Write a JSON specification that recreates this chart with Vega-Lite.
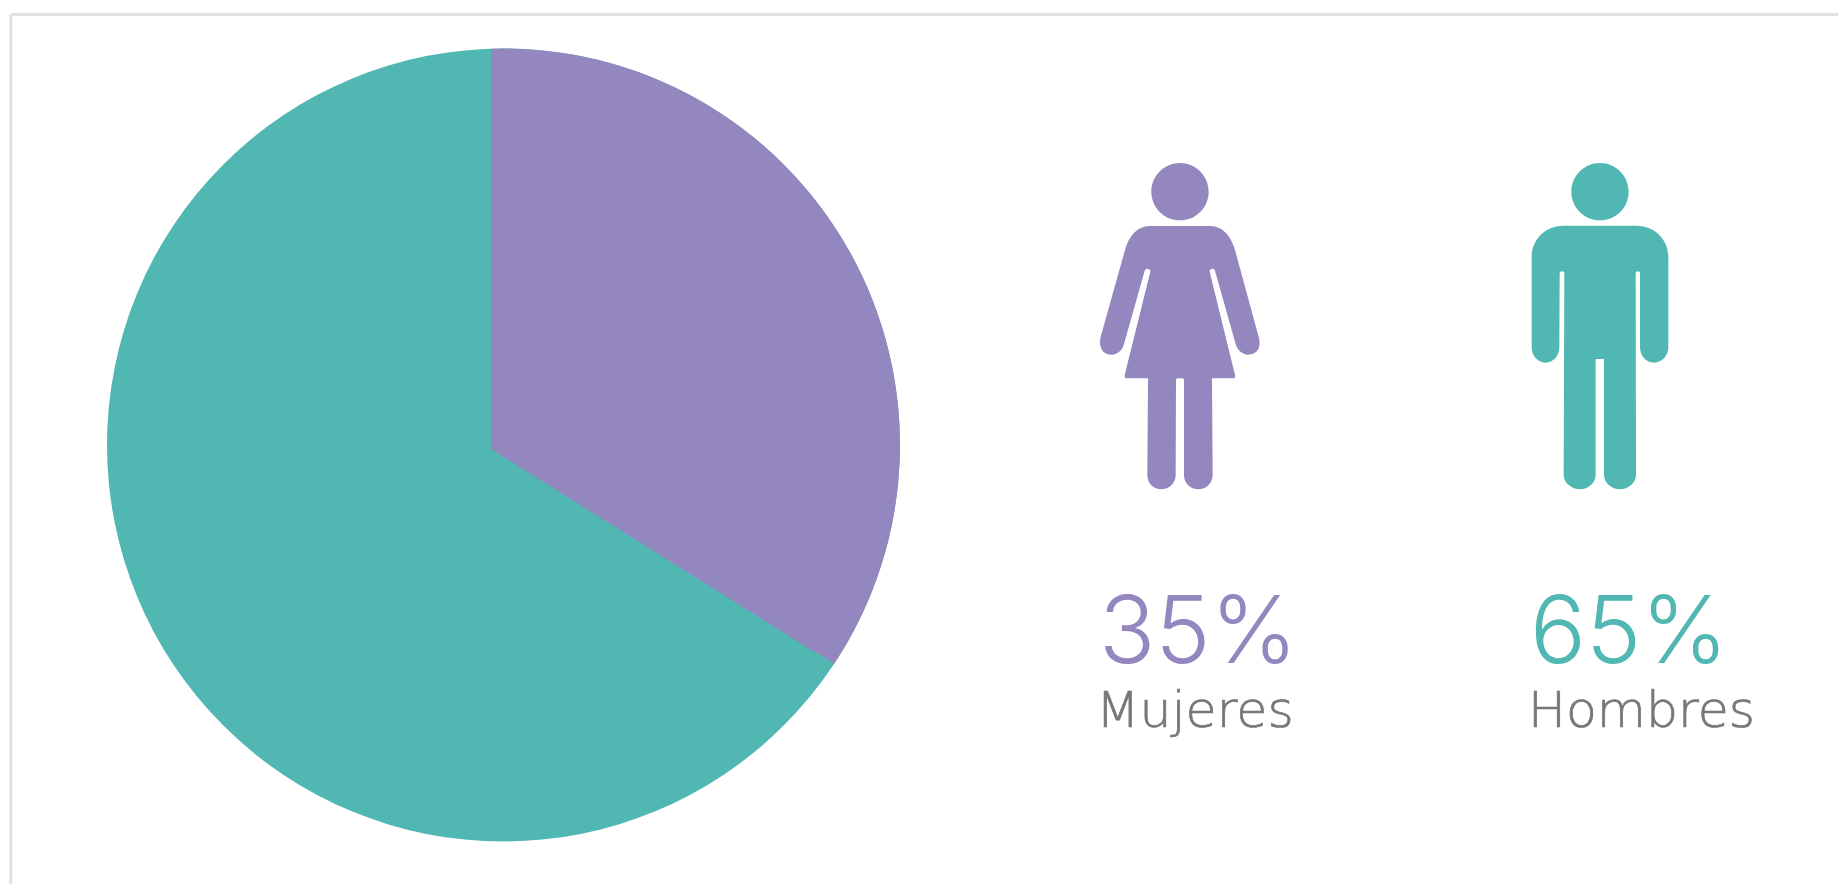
{
"$schema":"https://vega.github.io/schema/vega-lite/v6.json",
"width":1827.7,"height":870,
"padding":{"left":10.3,"top":14,"right":0,"bottom":0},
"autosize":{"type":"none"},
"background":"#ffffff",
"config":{"view":{"stroke":null},"axis":{"labels":false,"ticks":false,"grid":false,"domain":true,"domainColor":"#e0e0e0","domainWidth":2.8}},
"resolve":{"scale":{"theta":"independent"}},
"data":{"values":[
{"genero":"Mujeres","pct":35,"texto":"35%"},
{"genero":"Hombres","pct":65,"texto":"65%"}
]},
"layer":[
{"transform":[{"filter":"datum.genero==='Hombres'"}],
 "mark":{"type":"arc","outerRadius":396.5},
 "encoding":{
  "x":{"datum":503.5,"type":"quantitative","scale":{"domain":[10.3,1838]},"axis":{"orient":"top","title":null}},
  "y":{"datum":445,"type":"quantitative","scale":{"domain":[884,14]},"axis":{"title":null}},
  "theta":{"field":"pct","type":"quantitative","stack":true,"scale":{"domain":[0,65],"range":[0,6.2832]}},
  "color":{"field":"genero","type":"nominal","legend":null,"scale":{"domain":["Mujeres","Hombres"],"range":["#9486BF","#50B7B2"]}}
 }},
{"transform":[{"filter":"datum.genero==='Mujeres'"}],
 "mark":{"type":"arc","outerRadius":396.5},
 "encoding":{
  "x":{"datum":503.5,"type":"quantitative","scale":{"domain":[10.3,1838]},"axis":{"orient":"top","title":null}},
  "y":{"datum":445,"type":"quantitative","scale":{"domain":[884,14]},"axis":{"title":null}},
  "theta":{"field":"pct","type":"quantitative","stack":true,"scale":{"domain":[0,35],"range":[-0.0314,2.155]}},
  "color":{"field":"genero","type":"nominal","legend":null,"scale":{"domain":["Mujeres","Hombres"],"range":["#9486BF","#50B7B2"]}}
 }},
{"transform":[{"filter":"datum.genero==='Mujeres'"}],
 "mark":{"type":"arc","outerRadius":385},
 "encoding":{
  "x":{"datum":491,"type":"quantitative","scale":{"domain":[10.3,1838]},"axis":{"orient":"top","title":null}},
  "y":{"datum":449,"type":"quantitative","scale":{"domain":[884,14]},"axis":{"title":null}},
  "theta":{"field":"pct","type":"quantitative","stack":true,"scale":{"domain":[0,35],"range":[0,2.131]}},
  "color":{"field":"genero","type":"nominal","legend":null,"scale":{"domain":["Mujeres","Hombres"],"range":["#9486BF","#50B7B2"]}}
 }},
{"transform":[{"filter":"datum.genero==='Mujeres'"}],
 "mark":{"type":"point","filled":true,"opacity":1,"size":0.4444,"strokeWidth":0},
 "encoding":{
  "x":{"datum":1180,"type":"quantitative","scale":{"domain":[10.3,1838]},"axis":{"orient":"top","title":null}},
  "y":{"datum":326,"type":"quantitative","scale":{"domain":[884,14]},"axis":{"title":null}},
  "color":{"field":"genero","type":"nominal","legend":null,"scale":{"domain":["Mujeres","Hombres"],"range":["#9486BF","#50B7B2"]}},
  "shape":{"field":"genero","type":"nominal","legend":null,"scale":{"domain":["Mujeres","Hombres"],"range":[
   "M-86,-403 a86,86 0 1,0 172,0 a86,86 0 1,0 -172,0 Z M-90,-300 L90,-300 C130,-300 155,-265 165,-228 L236,32 C245,65 232,86 205,86 C186,86 172,72 167,54 L105,-166 C102,-176 87,-172 89,-163 L165,147 C167,153 164,157 160,157 L96,157 L98,447 C98,472 78,490 55,490 C32,490 12,472 12,447 L12,162 C12,159 9,157 6,157 L-6,157 C-9,157 -12,159 -12,162 L-13,447 C-13,472 -33,490 -56,490 C-79,490 -98,472 -98,447 L-96,157 L-160,157 C-164,157 -167,153 -166,147 L-89,-163 C-87,-172 -102,-176 -106,-166 L-168,54 C-173,72 -186,86 -205,86 C-232,86 -245,65 -238,32 L-165,-228 C-155,-265 -130,-300 -90,-300 Z",
   "M-86,-403 a86,86 0 1,0 172,0 a86,86 0 1,0 -172,0 Z M-110,-301 L110,-301 C165,-301 205,-258 205,-208 L205,64 C205,90 185,110 162,110 C139,110 120,90 120,64 L120,-158 C120,-166 107,-166 107,-158 L108,447 C108,470 85,490 60,490 C35,490 12,470 12,447 L12,99 L-13,99 L-13,447 C-13,470 -35,490 -60,490 C-85,490 -109,470 -109,447 L-107,-158 C-107,-166 -121,-166 -121,-158 L-122,64 C-122,90 -141,110 -163,110 C-186,110 -205,90 -205,64 L-205,-208 C-205,-258 -165,-301 -110,-301 Z"
  ]}}
 }},
{"transform":[{"filter":"datum.genero==='Hombres'"}],
 "mark":{"type":"point","filled":true,"opacity":1,"size":0.4444,"strokeWidth":0},
 "encoding":{
  "x":{"datum":1600,"type":"quantitative","scale":{"domain":[10.3,1838]},"axis":{"orient":"top","title":null}},
  "y":{"datum":326,"type":"quantitative","scale":{"domain":[884,14]},"axis":{"title":null}},
  "color":{"field":"genero","type":"nominal","legend":null,"scale":{"domain":["Mujeres","Hombres"],"range":["#9486BF","#50B7B2"]}},
  "shape":{"field":"genero","type":"nominal","legend":null,"scale":{"domain":["Mujeres","Hombres"],"range":[
   "M-86,-403 a86,86 0 1,0 172,0 a86,86 0 1,0 -172,0 Z M-90,-300 L90,-300 C130,-300 155,-265 165,-228 L236,32 C245,65 232,86 205,86 C186,86 172,72 167,54 L105,-166 C102,-176 87,-172 89,-163 L165,147 C167,153 164,157 160,157 L96,157 L98,447 C98,472 78,490 55,490 C32,490 12,472 12,447 L12,162 C12,159 9,157 6,157 L-6,157 C-9,157 -12,159 -12,162 L-13,447 C-13,472 -33,490 -56,490 C-79,490 -98,472 -98,447 L-96,157 L-160,157 C-164,157 -167,153 -166,147 L-89,-163 C-87,-172 -102,-176 -106,-166 L-168,54 C-173,72 -186,86 -205,86 C-232,86 -245,65 -238,32 L-165,-228 C-155,-265 -130,-300 -90,-300 Z",
   "M-86,-403 a86,86 0 1,0 172,0 a86,86 0 1,0 -172,0 Z M-110,-301 L110,-301 C165,-301 205,-258 205,-208 L205,64 C205,90 185,110 162,110 C139,110 120,90 120,64 L120,-158 C120,-166 107,-166 107,-158 L108,447 C108,470 85,490 60,490 C35,490 12,470 12,447 L12,99 L-13,99 L-13,447 C-13,470 -35,490 -60,490 C-85,490 -109,470 -109,447 L-107,-158 C-107,-166 -121,-166 -121,-158 L-122,64 C-122,90 -141,110 -163,110 C-186,110 -205,90 -205,64 L-205,-208 C-205,-258 -165,-301 -110,-301 Z"
  ]}}
 }},
{"transform":[{"filter":"datum.genero==='Mujeres'"}],
 "mark":{"type":"text","align":"left","baseline":"alphabetic","font":"Inter","fontWeight":300,"fontSize":93},
 "encoding":{
  "x":{"datum":1099,"type":"quantitative","scale":{"domain":[10.3,1838]},"axis":{"orient":"top","title":null}},
  "y":{"datum":663,"type":"quantitative","scale":{"domain":[884,14]},"axis":{"title":null}},
  "text":{"field":"texto"},
  "color":{"field":"genero","type":"nominal","legend":null,"scale":{"domain":["Mujeres","Hombres"],"range":["#9486BF","#50B7B2"]}}
 }},
{"transform":[{"filter":"datum.genero==='Hombres'"}],
 "mark":{"type":"text","align":"left","baseline":"alphabetic","font":"Inter","fontWeight":300,"fontSize":93},
 "encoding":{
  "x":{"datum":1530,"type":"quantitative","scale":{"domain":[10.3,1838]},"axis":{"orient":"top","title":null}},
  "y":{"datum":663,"type":"quantitative","scale":{"domain":[884,14]},"axis":{"title":null}},
  "text":{"field":"texto"},
  "color":{"field":"genero","type":"nominal","legend":null,"scale":{"domain":["Mujeres","Hombres"],"range":["#9486BF","#50B7B2"]}}
 }},
{"transform":[{"filter":"datum.genero==='Mujeres'"}],
 "mark":{"type":"text","align":"left","baseline":"alphabetic","font":"DejaVu Sans","fontWeight":200,"fontSize":50.5,"fill":"#77777B","stroke":"#77777B","strokeWidth":0.7},
 "encoding":{
  "x":{"datum":1096,"type":"quantitative","scale":{"domain":[10.3,1838]},"axis":{"orient":"top","title":null}},
  "y":{"datum":727,"type":"quantitative","scale":{"domain":[884,14]},"axis":{"title":null}},
  "text":{"field":"genero"}
 }},
{"transform":[{"filter":"datum.genero==='Hombres'"}],
 "mark":{"type":"text","align":"left","baseline":"alphabetic","font":"DejaVu Sans","fontWeight":200,"fontSize":50.5,"fill":"#77777B","stroke":"#77777B","strokeWidth":0.7},
 "encoding":{
  "x":{"datum":1528,"type":"quantitative","scale":{"domain":[10.3,1838]},"axis":{"orient":"top","title":null}},
  "y":{"datum":727,"type":"quantitative","scale":{"domain":[884,14]},"axis":{"title":null}},
  "text":{"field":"genero"}
 }}
]
}
